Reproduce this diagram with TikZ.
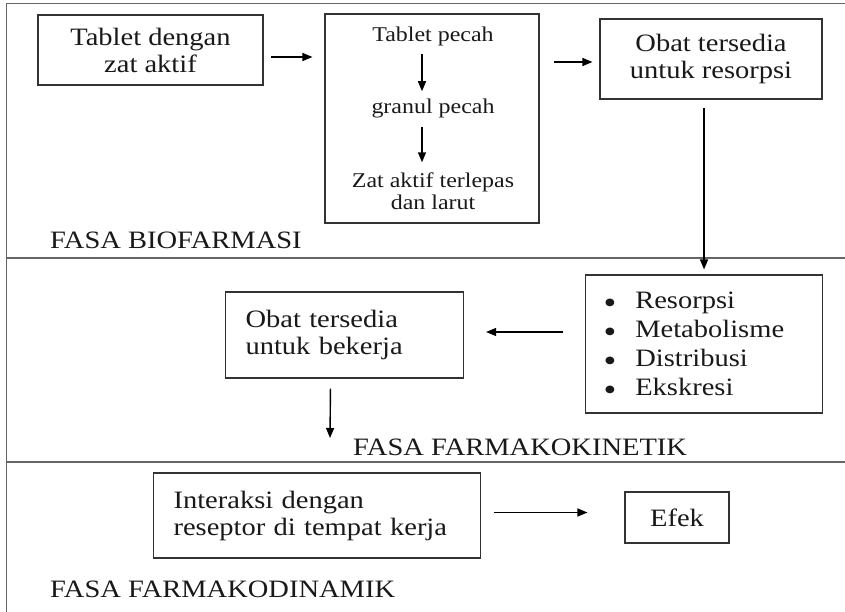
\documentclass[tikz,border=0pt]{standalone}
\usepackage{fontspec}
\setmainfont{Liberation Serif}[FakeStretch=1.14]
\usetikzlibrary{arrows.meta}
\usetikzlibrary{positioning}

\newcommand{\bigdot}{\smash{\raisebox{-5pt}{\fontsize{32}{27}\selectfont\textbullet}}\hspace{19pt}}

\tikzset{
  frameline/.style={draw=black!60,line width=1.6pt},
  box/.style={draw=black!80,line width=1.1pt,inner sep=0pt,text=black!90,font=\fontsize{25}{27}\selectfont},
  smalltxt/.style={inner sep=0pt,text=black!90,font=\fontsize{21}{22}\selectfont,align=center},
  fasa/.style={inner sep=0pt,text=black!90,font=\fontsize{25}{27}\selectfont,anchor=base west},
  arr/.style={-{Triangle[length=10pt,width=8pt]},line width=1.4pt,black}
}

\begin{document}
\begin{tikzpicture}[x=1pt,y=-1pt]
\useasboundingbox (0,0) rectangle (845,612);
\fill[white] (0,0) rectangle (845,612);

\draw[frameline] (6.5,3.5) -- (845,3.5);
\draw[frameline] (6.5,3.5) -- (6.5,612);
\draw[frameline] (6.5,258) -- (845,258);
\draw[frameline] (6.5,462) -- (845,462);

\node[box,minimum width=225,minimum height=70,align=center] (b1) at (150.5,50) {Tablet dengan\\zat aktif};
\node[box,minimum width=214,minimum height=209] (b2) at (432,118.5) {};
\node[smalltxt] (tp) at (433,36) {Tablet pecah};
\node[smalltxt] (gp) at (433,108) {granul pecah};
\node[smalltxt] (za) at (433,191) {Zat aktif terlepas\\dan larut};
\node[box,minimum width=222,minimum height=80,align=center] (b3) at (711,59) {Obat tersedia\\untuk resorpsi};
\node[fasa] (f1) at (50,248) {FASA BIOFARMASI};

\node[box,anchor=west,text width=201,minimum height=138,inner xsep=18,align=left,font=\fontsize{25}{29}\selectfont] (b4) at (585,344)
  {\bigdot Resorpsi\\\bigdot Metabolisme\\\bigdot Distribusi\\\bigdot Ekskresi};
\node[box,anchor=west,text width=198,minimum height=86,inner xsep=20,align=left] (b5) at (225,335)
  {Obat tersedia\\untuk bekerja};
\coordinate (k) at (330,438);
\node[fasa] (f2) at (353,455) {FASA FARMAKOKINETIK};

\node[box,anchor=west,text width=287,minimum height=85,inner xsep=20,align=left] (b6) at (153,515.5)
  {Interaksi dengan\\reseptor di tempat kerja};
\node[box,minimum width=104,minimum height=51] (b7) at (677,517.5) {Efek};
\node[fasa] (f3) at (50,597) {FASA FARMAKODINAMIK};

\draw[arr,shorten <=7pt,shorten >=12pt] ([yshift=-7pt]b1.east) -- ([yshift=-7pt]b1.east -| b2.west);
\draw[arr,shorten <=8pt,shorten >=7pt] ([xshift=-11pt]tp.south) -- ([xshift=-11pt]gp.north);
\draw[arr,shorten <=9pt,shorten >=10pt] ([xshift=-11pt]gp.south) -- ([xshift=-11pt]za.north);
\draw[arr,shorten <=14pt,shorten >=7pt] ([yshift=-3pt]b3.west -| b2.east) -- ([yshift=-3pt]b3.west);
\draw[arr,shorten <=8pt,shorten >=5pt] (b3.south -| b4.north) -- (b4.north);
\draw[arr,shorten <=22pt,shorten >=22pt] ([yshift=3pt]b5.east -| b4.west) -- ([yshift=3pt]b5.east);
\draw[arr,shorten <=10pt] ([xshift=-14pt]b5.south) -- (k);
\draw[arr,shorten <=13pt,shorten >=37pt] ([yshift=3pt]b6.east) -- ([yshift=3pt]b6.east -| b7.west);

\end{tikzpicture}
\end{document}
